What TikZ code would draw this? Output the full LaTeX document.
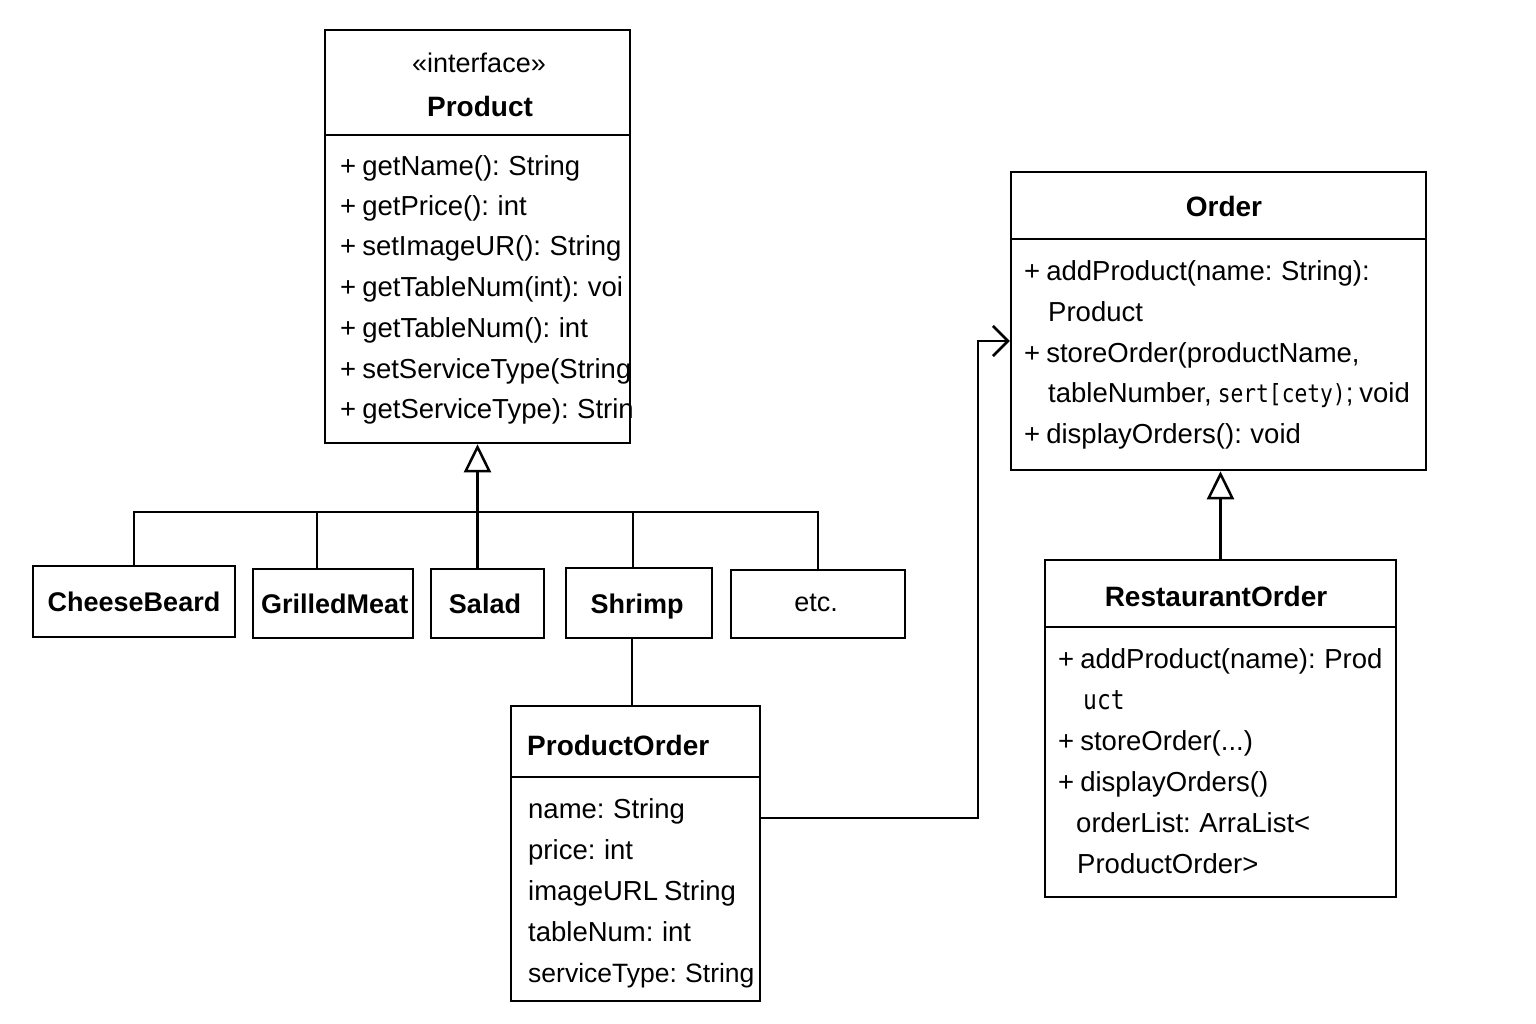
\documentclass[tikz,border=0pt]{standalone}
\usepackage{fontspec}
\setmainfont{Liberation Sans}
\newfontfamily\monofont[FakeStretch=0.85]{DejaVu Sans Mono}
\usetikzlibrary{arrows.meta}
\newcommand\mytightsp{\spaceskip 0.22em plus 0.1em minus 0.05em\relax}
\begin{document}
\begin{tikzpicture}[x=1pt,y=-1pt,
  lw/.style={line width=2.5pt},
  box/.style={draw, lw, rectangle, inner sep=0pt},
  txt/.style={inner sep=0pt, text height=26pt, text depth=6pt, font=\fontsize{27.5}{32}\selectfont\mytightsp, anchor=west},
  ttl/.style={inner sep=0pt, text height=20pt, text depth=0pt, font=\fontsize{28}{32}\selectfont\bfseries},
  inh/.style={lw, -{Triangle[open, length=28pt, width=27pt, line width=2.5pt]}},
  assoc/.style={lw, -{Straight Barb[length=15pt, width=30pt, line width=2.5pt]}}
]
\useasboundingbox[fill=white] (0,0) rectangle (1536,1024);

% ---------- class boxes ----------
\node[box, minimum width=305pt, minimum height=413pt] (product) at (477.5,236.5) {};
\node[box, minimum width=415pt, minimum height=298pt] (order) at (1218.5,321) {};
\node[box, minimum width=351pt, minimum height=337pt] (ro) at (1220.5,728.5) {};
\node[box, minimum width=249pt, minimum height=295pt] (po) at (635.5,853.5) {};

\node[box, minimum width=202pt, minimum height=71pt] (cheese) at (134,601.5) {};
\node[box, minimum width=160pt, minimum height=69pt] (grilled) at (333,603.5) {};
\node[box, minimum width=113pt, minimum height=69pt] (salad) at (487.5,603.5) {};
\node[box, minimum width=146pt, minimum height=70pt] (shrimp) at (639,603) {};
\node[box, minimum width=174pt, minimum height=68pt] (etc) at (818,604) {};

% dividers
\coordinate (ydivP) at (0,135);
\coordinate (ydivO) at (0,239);
\coordinate (ydivR) at (0,627);
\coordinate (ydivPO) at (0,777);
\draw[lw] (product.west |- ydivP) -- (product.east |- ydivP);
\draw[lw] (order.west |- ydivO) -- (order.east |- ydivO);
\draw[lw] (ro.west |- ydivR) -- (ro.east |- ydivR);
\draw[lw] (po.west |- ydivPO) -- (po.east |- ydivPO);

% ---------- Product ----------
\node[inner sep=0pt, font=\fontsize{27}{32}\selectfont] (pster) at (479,63) {«interface»};
\node[ttl] (ptitle) at (480,107) {Product};
\begin{scope}
\clip (product.south west) rectangle (product.north east);
\node[txt] (pm1) at (340,166) {+ getName(): String};
\node[txt] (pm2) at (340,206) {+ getPrice(): int};
\node[txt] (pm3) at (340,246) {+ setImageUR(): String};
\node[txt] (pm4) at (340,287) {+ getTableNum(int): voi};
\node[txt] (pm5) at (340,327) {+ getTableNum(): int};
\node[txt] (pm6) at (340,368) {+ setServiceType(String};
\node[txt] (pm7) at (340,408) {+ getServiceType): Strin};
\end{scope}

% ---------- subclasses ----------
\node[ttl, font=\fontsize{27}{32}\selectfont\bfseries] (cheeset) at (cheese) {CheeseBeard};
\begin{scope}
\clip (grilled.south west) rectangle (grilled.north east);
\node[ttl, font=\fontsize{27}{32}\selectfont\bfseries, anchor=west] (grilledt) at (261,603) {GrilledMeat};
\end{scope}
\node[ttl, font=\fontsize{27}{32}\selectfont\bfseries] (saladt) at (485,603) {Salad};
\node[ttl, font=\fontsize{27}{32}\selectfont\bfseries] (shrimpt) at (637,603) {Shrimp};
\node[inner sep=0pt, font=\fontsize{27}{32}\selectfont] (etct) at (816,603) {etc.};

% generalization tree
\coordinate (bus) at (477,512);
\draw[inh] (product.south |- salad.north) -- (product.south);
\draw[lw] (cheese.north) |- (bus) -| (etc.north);
\draw[lw] ([xshift=-16pt]grilled.north) -- ([xshift=-16pt]grilled.north |- bus);
\draw[lw] ([xshift=-6pt]shrimp.north) -- ([xshift=-6pt]shrimp.north |- bus);

% ---------- ProductOrder ----------
\node[ttl, anchor=west] (pot) at (527,745) {ProductOrder};
\node[txt] (pa1) at (528,808) {name: String};
\node[txt] (pa2) at (528,849) {price: int};
\node[txt] (pa3) at (528,890) {imageURL String};
\node[txt] (pa4) at (528,931) {tableNum: int};
\node[txt, font=\fontsize{26.5}{32}\selectfont\mytightsp] (pa5) at (528,972) {serviceType: String};
\draw[lw] ([xshift=-7pt]shrimp.south) -- ([xshift=-7pt]shrimp.south |- po.north);

% ---------- Order ----------
\node[ttl] (ot) at (1224,207) {Order};
\node[txt] (om1) at (1024,270) {+ addProduct(name: String):};
\node[txt] (om1b) at (1048,311) {Product};
\node[txt] (om2) at (1024,352) {+ storeOrder(productName,};
\node[txt] (om2b) at (1048,392) {tableNumber, {\monofont\fontsize{25}{30}\selectfont sert[cety)}; void};
\node[txt] (om3) at (1024,433) {+ displayOrders(): void};

% association arrow
\coordinate (bend) at (978,341);
\draw[assoc] ([yshift=35.5pt]po.east) -| (bend) -- (bend -| order.west);

% ---------- RestaurantOrder ----------
\node[ttl] (rot) at (1216,596) {RestaurantOrder};
\node[txt] (rm1) at (1058,658) {+ addProduct(name): Prod};
\node[txt, font=\monofont\fontsize{27}{30}\selectfont] (rm1b) at (1083,699) {uct};
\node[txt] (rm2) at (1058,740) {+ storeOrder(...)};
\node[txt] (rm3) at (1058,781) {+ displayOrders()};
\node[txt] (rm4) at (1076,822) {orderList: ArraList<};
\node[txt] (rm5) at (1077,863) {ProductOrder>};

\draw[inh] (ro.north) -- (ro.north |- order.south);
\end{tikzpicture}
\end{document}
